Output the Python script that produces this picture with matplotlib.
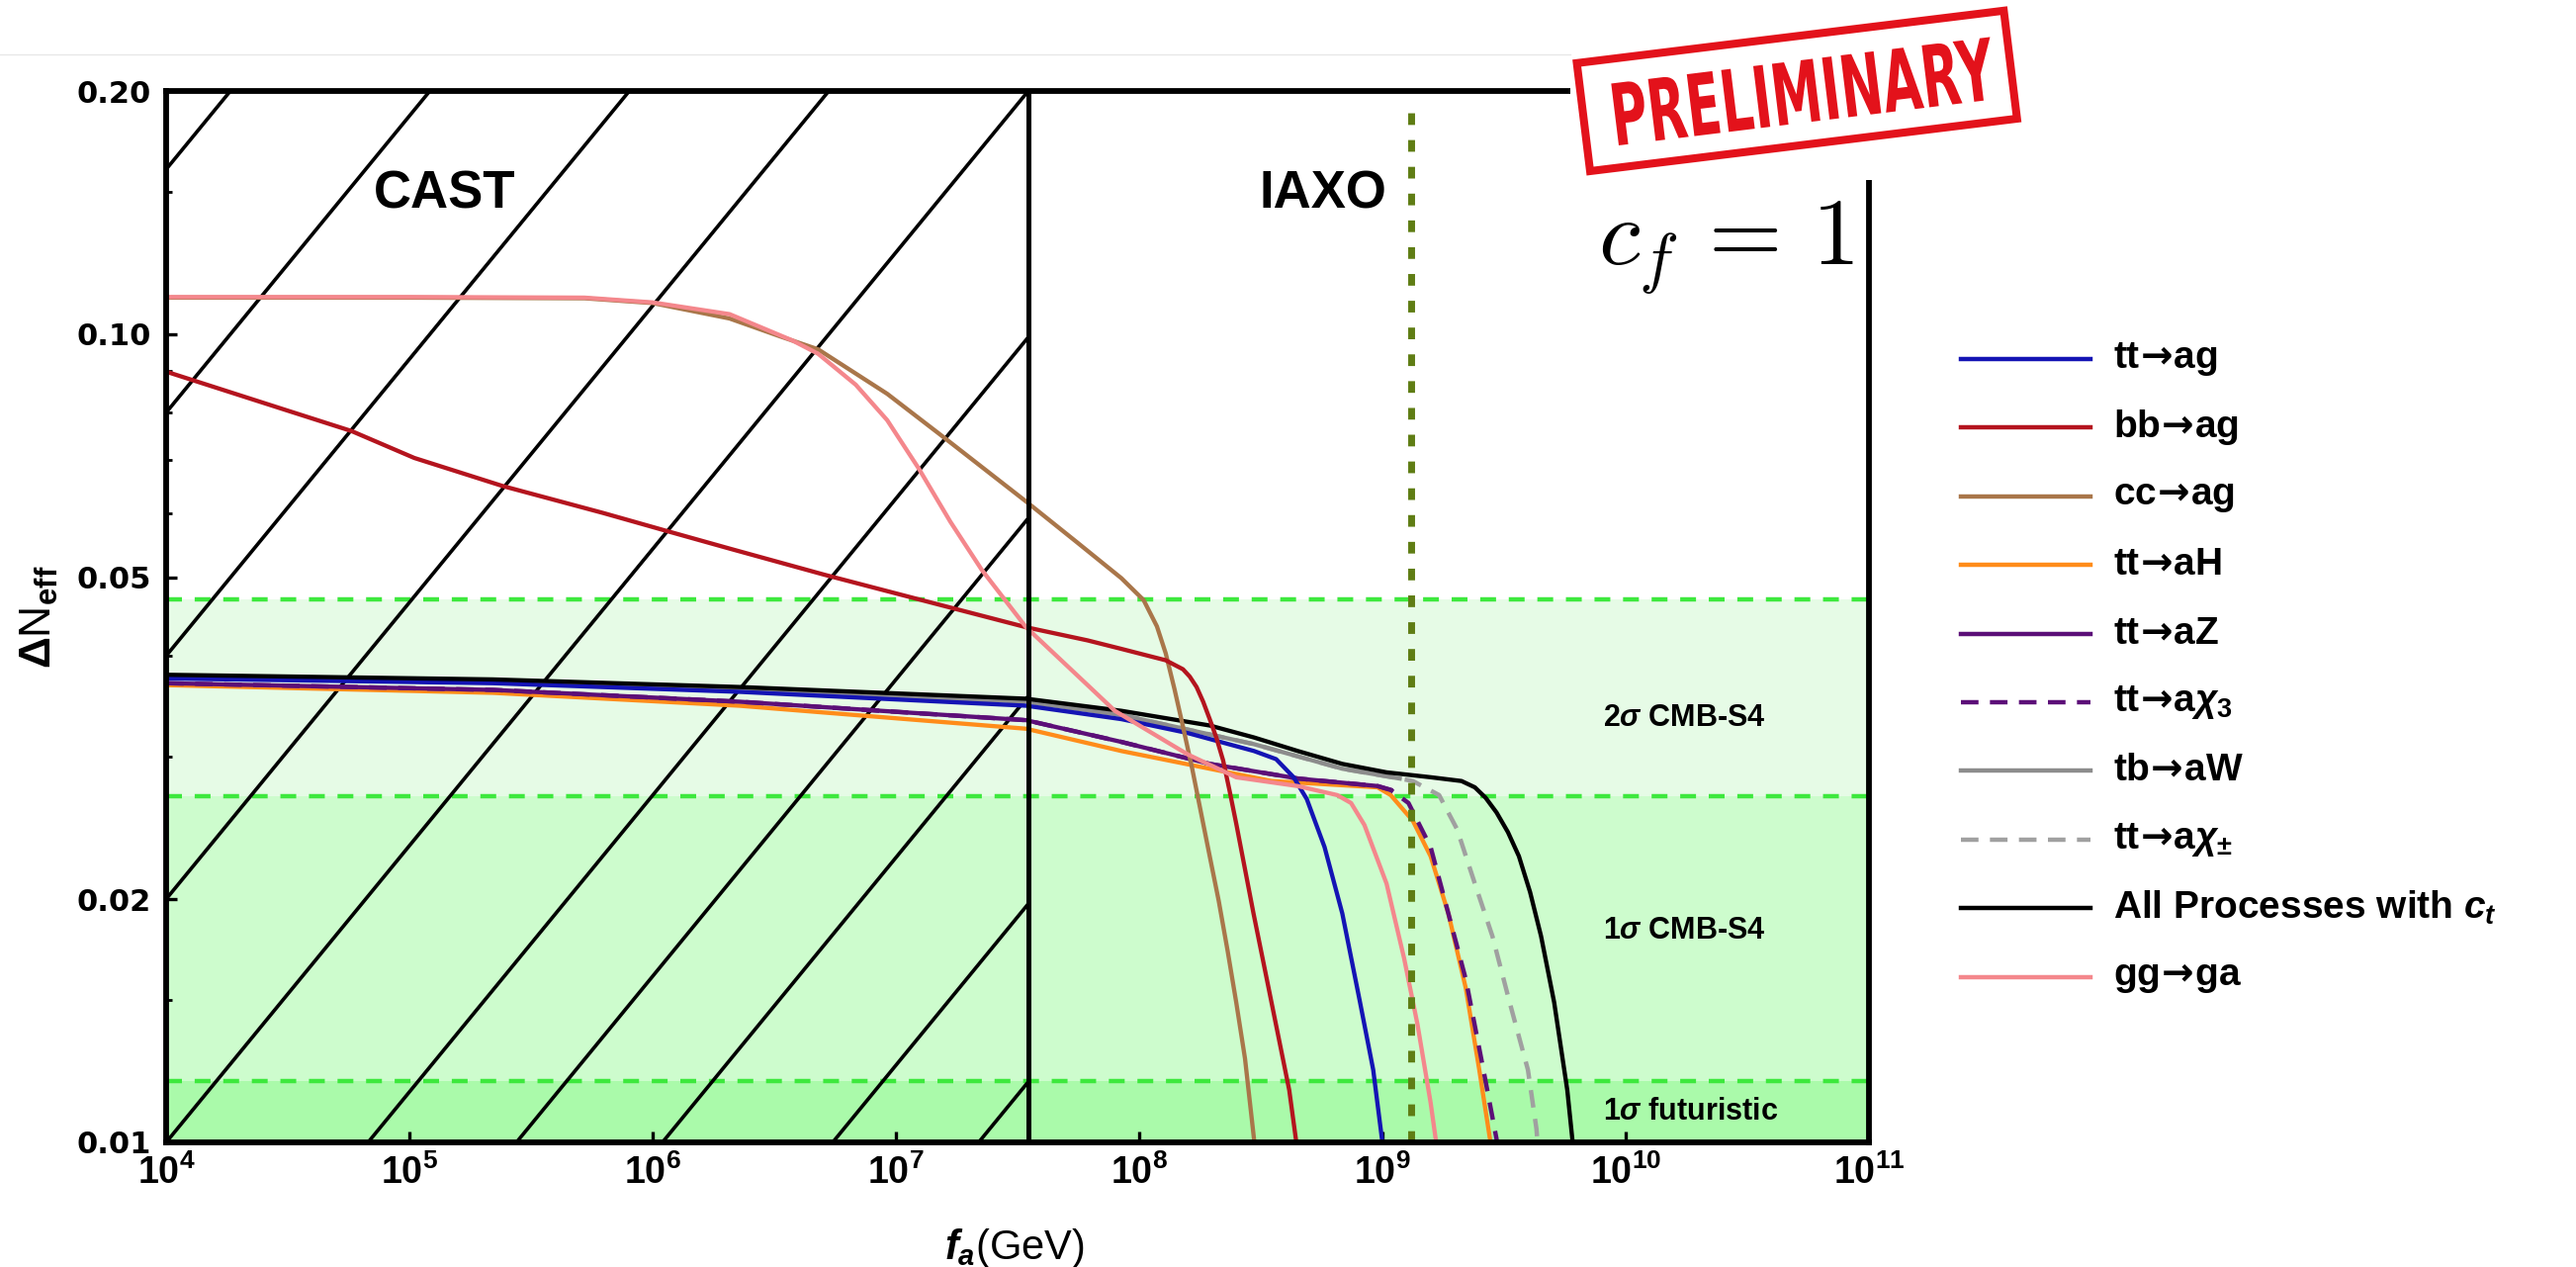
import numpy as np
import matplotlib
matplotlib.use("Agg")
import matplotlib.pyplot as plt
from matplotlib.patches import Rectangle, PathPatch
from matplotlib.textpath import TextPath
from matplotlib.font_manager import FontProperties
from matplotlib.lines import Line2D
from matplotlib.ticker import NullLocator, NullFormatter
from matplotlib.transforms import Affine2D

plt.rcParams['font.family'] = ['Liberation Sans', 'DejaVu Sans']
plt.rcParams['font.weight'] = 'bold'
plt.rcParams['mathtext.fontset'] = 'custom'
plt.rcParams['mathtext.rm'] = 'Liberation Sans:bold'
plt.rcParams['mathtext.bf'] = 'Liberation Sans:bold'
plt.rcParams['mathtext.sf'] = 'DejaVu Sans:bold'
plt.rcParams['mathtext.it'] = 'Liberation Sans:italic:bold'

W, H = 2605, 1281

# ---- data (log10 f_a [GeV], Delta N_eff) ----
LOG_FA_TT_AG = [4.0, 5.344, 6.357, 7.535, 7.927, 8.20, 8.472, 8.563, 8.635, 8.689, 8.762, 8.835, 8.908, 8.962, 8.998, 9.004]
DN_TT_AG = [0.0375, 0.0370, 0.0361, 0.0347, 0.0334, 0.0321, 0.0305, 0.0298, 0.0283, 0.0266, 0.0232, 0.0192, 0.0149, 0.0123, 0.0101, 0.0098]

LOG_FA_BB_AG = [4.0, 4.502, 4.762, 5.02, 5.383, 5.796, 6.057, 6.316, 6.706, 7.092, 7.535, 7.788, 7.927, 8.109, 8.18, 8.208, 8.236, 8.263, 8.29, 8.317, 8.345, 8.372, 8.399, 8.47, 8.544, 8.617, 8.65]
DN_BB_AG = [0.0899, 0.0804, 0.0759, 0.0703, 0.0649, 0.0601, 0.0571, 0.0543, 0.0504, 0.0470, 0.0434, 0.0418, 0.0408, 0.0395, 0.0385, 0.0377, 0.0366, 0.0351, 0.0334, 0.0317, 0.0297, 0.0272, 0.0248, 0.0192, 0.0149, 0.0116, 0.0098]

LOG_FA_CC_AG = [4.0, 5.0, 5.72, 6.0, 6.316, 6.524, 6.68, 6.964, 7.198, 7.535, 7.747, 7.927, 8.018, 8.073, 8.109, 8.145, 8.182, 8.218, 8.254, 8.290, 8.327, 8.363, 8.399, 8.435, 8.472, 8.478]
DN_CC_AG = [0.1110, 0.1110, 0.1108, 0.1093, 0.1046, 0.0994, 0.0958, 0.0844, 0.0745, 0.0621, 0.0552, 0.0499, 0.0469, 0.0435, 0.0403, 0.0364, 0.0325, 0.0290, 0.0256, 0.0226, 0.0199, 0.0173, 0.0149, 0.0127, 0.0101, 0.0098]

LOG_FA_TT_AH = [4.0, 5.344, 6.357, 7.535, 7.927, 8.29, 8.544, 8.98, 9.034, 9.125, 9.198, 9.271, 9.343, 9.398, 9.442, 9.448]
DN_TT_AH = [0.0368, 0.0360, 0.0347, 0.0325, 0.0305, 0.0290, 0.0280, 0.0275, 0.0269, 0.0250, 0.0226, 0.0192, 0.0155, 0.0123, 0.0101, 0.0098]

LOG_FA_TT_AZ = [4.0, 5.344, 6.357, 7.535, 7.927, 8.29, 8.652, 8.98, 9.034]
DN_TT_AZ = [0.0370, 0.0363, 0.0351, 0.0333, 0.0313, 0.0294, 0.0282, 0.0276, 0.0273]

LOG_FA_TT_AX3 = [4.0, 5.344, 6.357, 7.535, 7.927, 8.29, 8.652, 8.98, 9.034, 9.107, 9.198, 9.271, 9.343, 9.415, 9.469, 9.475]
DN_TT_AX3 = [0.0370, 0.0363, 0.0351, 0.0333, 0.0313, 0.0294, 0.0282, 0.0276, 0.0273, 0.0263, 0.0232, 0.0192, 0.0159, 0.0123, 0.0101, 0.0098]

LOG_FA_TB_AW = [4.0, 5.344, 6.357, 7.535, 7.927, 8.472, 8.835, 9.071]
DN_TB_AW = [0.0376, 0.0371, 0.0363, 0.0351, 0.0338, 0.0311, 0.0290, 0.0282]

LOG_FA_TT_AXPM = [4.0, 5.344, 6.357, 7.535, 7.927, 8.472, 8.835, 9.071, 9.125, 9.233, 9.307, 9.380, 9.452, 9.523, 9.598, 9.633, 9.64]
DN_TT_AXPM = [0.0376, 0.0371, 0.0363, 0.0351, 0.0338, 0.0311, 0.0290, 0.0282, 0.0280, 0.0269, 0.0244, 0.0209, 0.0180, 0.0149, 0.0123, 0.0104, 0.0098]

LOG_FA_ALL = [4.0, 5.344, 6.357, 7.535, 7.927, 8.29, 8.472, 8.652, 8.835, 9.017, 9.199, 9.325, 9.38, 9.424, 9.469, 9.516, 9.561, 9.607, 9.652, 9.706, 9.760, 9.785]
DN_ALL = [0.0379, 0.0374, 0.0366, 0.0354, 0.0342, 0.0328, 0.0317, 0.0305, 0.0294, 0.0287, 0.0283, 0.0280, 0.0275, 0.0267, 0.0256, 0.0242, 0.0226, 0.0204, 0.0180, 0.0149, 0.0116, 0.0098]

LOG_FA_GG_GA = [4.0, 5.0, 5.72, 6.0, 6.316, 6.576, 6.68, 6.835, 6.964, 7.094, 7.224, 7.353, 7.535, 7.788, 7.90, 8.20, 8.399, 8.652, 8.814, 8.871, 8.926, 9.017, 9.089, 9.144, 9.198, 9.225]
DN_GG_GA = [0.1112, 0.1112, 0.1110, 0.1095, 0.1059, 0.0982, 0.0946, 0.0866, 0.0783, 0.0682, 0.0586, 0.0511, 0.0434, 0.0368, 0.0342, 0.0302, 0.0283, 0.0276, 0.0269, 0.0263, 0.0247, 0.0209, 0.0169, 0.0140, 0.0112, 0.0098]

# sensitivity bands
DN_2SIGMA_S4 = 0.0470
DN_1SIGMA_S4 = 0.0268
DN_1SIGMA_FUT = 0.0119
# experiments
FA_CAST = 3.5e7
FA_IAXO_LINE = 1.31e9
# hatch lines of the CAST region: log10 f_a where each line meets Delta N = 0.01
HATCH_X0 = [0.72, 1.54, 2.36, 3.18, 4.0, 4.83, 5.44, 6.04, 6.74, 7.34]

XTICK_EXP = [4, 5, 6, 7, 8, 9, 10, 11]
YTICKS = [0.01, 0.02, 0.05, 0.10, 0.20]
YTICK_LABELS = ['0.01', '0.02', '0.05', '0.10', '0.20']
YMINOR = [0.015, 0.03, 0.04, 0.06, 0.07, 0.08, 0.09, 0.15]

ARROW = r'$\!\mathsf{\rightarrow}\!$'

curves = [
    # label, logfa, dn, color, style
    ('tt→aχ±', LOG_FA_TT_AXPM, DN_TT_AXPM, '#a0a0a0', 'dash'),
    ('tb→aW', LOG_FA_TB_AW, DN_TB_AW, '#8c8c8c', '-'),
    ('tt→aH', LOG_FA_TT_AH, DN_TT_AH, '#ff8c1a', '-'),
    ('tt→aZ', LOG_FA_TT_AZ, DN_TT_AZ, '#5c0f78', '-'),
    ('tt→aχ3', LOG_FA_TT_AX3, DN_TT_AX3, '#5c0f78', 'dash'),
    ('tt→ag', LOG_FA_TT_AG, DN_TT_AG, '#1414b4', '-'),
    ('All', LOG_FA_ALL, DN_ALL, 'black', '-'),
    ('cc→ag', LOG_FA_CC_AG, DN_CC_AG, '#a9764a', '-'),
    ('bb→ag', LOG_FA_BB_AG, DN_BB_AG, '#b4141e', '-'),
    ('gg→ga', LOG_FA_GG_GA, DN_GG_GA, '#f4878c', '-'),
]

legend_rows = [
    ('tt' + ARROW + 'ag', '#1414b4', '-'),
    ('bb' + ARROW + 'ag', '#b4141e', '-'),
    ('cc' + ARROW + 'ag', '#a9764a', '-'),
    ('tt' + ARROW + 'aH', '#ff8c1a', '-'),
    ('tt' + ARROW + 'aZ', '#5c0f78', '-'),
    ('tt' + ARROW + r'a$\chi_3$', '#5c0f78', 'dash'),
    ('tb' + ARROW + 'aW', '#8c8c8c', '-'),
    ('tt' + ARROW + r'a$\chi_{\pm}$', '#a0a0a0', 'dash'),
    (r'All Processes with $c_t$', 'black', '-'),
    ('gg' + ARROW + 'ga', '#f4878c', '-'),
]

fig = plt.figure(figsize=(W / 100, H / 100), dpi=100)
ax = fig.add_axes([168 / W, (H - 1155) / H, 1722 / W, 1063 / H])
ax.set_xscale('log')
ax.set_yscale('log')
ax.set_xlim(1e4, 1e11)
ax.set_ylim(0.01, 0.2)

# green bands
ax.axhspan(DN_1SIGMA_S4, DN_2SIGMA_S4, color='#e6fbe6', zorder=0, lw=0)
ax.axhspan(DN_1SIGMA_FUT, DN_1SIGMA_S4, color='#cdfccd', zorder=0, lw=0)
ax.axhspan(0.01, DN_1SIGMA_FUT, color='#aafaaa', zorder=0, lw=0)
for lev in [DN_2SIGMA_S4, DN_1SIGMA_S4, DN_1SIGMA_FUT]:
    ax.axhline(lev, color='#3de83d', lw=3.2, ls=(0, (3.6, 2.9)), zorder=0.5)

# CAST hatching
m = (np.log10(0.2) + 2) / (np.log10(FA_CAST) - 4)
lc = np.log10(FA_CAST)
for x0 in HATCH_X0:
    xs = max(4.0, x0)
    xe = min(lc, x0 + (np.log10(0.2) + 2) / m)
    if xe <= xs:
        continue
    ys = -2 + m * (xs - x0)
    ye = -2 + m * (xe - x0)
    ax.plot([10 ** xs, 10 ** xe], [10 ** ys, 10 ** ye], color='black', lw=2.6, zorder=1,
            solid_capstyle='butt')

# curves
for lab, lx, dn, col, st in curves:
    if st == 'dash':
        ax.plot(10 ** np.array(lx), dn, color=col, lw=3.2, ls=(0, (4, 2.6)), zorder=2)
    else:
        ax.plot(10 ** np.array(lx), dn, color=col, lw=3.1, zorder=2,
                solid_joinstyle='round')

ax.axvline(FA_CAST, color='black', lw=3.6, zorder=3)
ax.axvline(FA_IAXO_LINE, ymax=0.985, color='#5f7d14', lw=5, ls=(0, (1.7, 2.2)),
           dash_capstyle='butt', zorder=3)

ax.text(1.4e5, 0.149, 'CAST', fontsize=38, ha='center', va='center', zorder=4)
ax.text(5.7e8, 0.149, 'IAXO', fontsize=38, ha='center', va='center', zorder=4)
ax.text(8.1e9, 0.0335, r'2$\sigma$ CMB-S4', fontsize=22, ha='left', va='center', zorder=4)
ax.text(8.1e9, 0.0183, r'1$\sigma$ CMB-S4', fontsize=22, ha='left', va='center', zorder=4)
ax.text(8.1e9, 0.0109, r'1$\sigma$ futuristic', fontsize=22, ha='left', va='center', zorder=4)

# axes styling
for s in ax.spines.values():
    s.set_linewidth(4.2)
    s.set_zorder(5)
ax.set_xticks([10.0 ** e for e in XTICK_EXP])
ax.set_xticklabels([r'$10^{%d}$' % e for e in XTICK_EXP], fontsize=27)
ax.xaxis.set_minor_locator(NullLocator())
ax.set_yticks(YTICKS)
ax.set_yticklabels(YTICK_LABELS, fontsize=22, family='DejaVu Sans', fontweight='bold')
ax.set_yticks(YMINOR, minor=True)
ax.yaxis.set_minor_formatter(NullFormatter())
ax.tick_params(which='major', direction='in', length=8, width=2.4, top=False, right=False)
ax.tick_params(which='minor', direction='in', length=4.5, width=2.0, top=False, right=False)
ax.tick_params(axis='x', pad=9)
ax.tick_params(axis='y', pad=11)

ax.set_xlabel(r'$f_a$(GeV)', fontsize=30)
ax.xaxis.set_label_coords(0.498, -0.080)
ax.set_ylabel(r'$\Delta$N$_{\rm eff}$', fontsize=32)
ax.yaxis.set_label_coords(-0.062, 0.50)

# legend drawn by hand at the right
for i, (lab, col, st) in enumerate(legend_rows):
    yy = (H - (363 + 69.4 * i)) / H
    ls = (0, (4, 2.6)) if st == 'dash' else '-'
    fig.add_artist(Line2D([1983 / W, 2114 / W], [yy, yy], color=col, lw=3.2, ls=ls))
    fig.text(2137 / W, yy, lab, fontsize=28, ha='left', va='center')

# screenshot edge and the pasted label box at the top right
fig.add_artist(Line2D([0, 1588 / W], [(H - 55) / H] * 2, color='#e8e8e8', lw=1))
fig.add_artist(Rectangle((1588 / W, (H - 182) / H), 320 / W, 105 / H,
                         transform=fig.transFigure, facecolor='white', edgecolor='none', zorder=10))

to_fig = Affine2D().scale(1 / W, 1 / H) + fig.transFigure
stamp_red = '#e3121b'
fig.add_artist(Rectangle((1608, H - 173), 435, 110, angle=7, transform=to_fig,
                         facecolor='none', edgecolor=stamp_red, lw=5.8, zorder=11))
tp = TextPath((0, 0), 'PRELIMINARY', size=1, prop=FontProperties(family='DejaVu Sans', weight='bold'))
bb = tp.get_extents()
tr = (Affine2D().translate(-bb.x0, -bb.y0).scale(386 / bb.width, 63 / bb.height)
      .rotate_deg(7).translate(1637, H - 147)) + to_fig
fig.add_artist(PathPatch(tp, transform=tr, facecolor=stamp_red, edgecolor='none', zorder=11))

fig.text(1616 / W, (H - 268) / H, r'$c_f\,=\,1$', math_fontfamily='cm', fontsize=69,
         fontweight='normal', ha='left', va='baseline', zorder=12)

fig.savefig('out.png', dpi=100)
